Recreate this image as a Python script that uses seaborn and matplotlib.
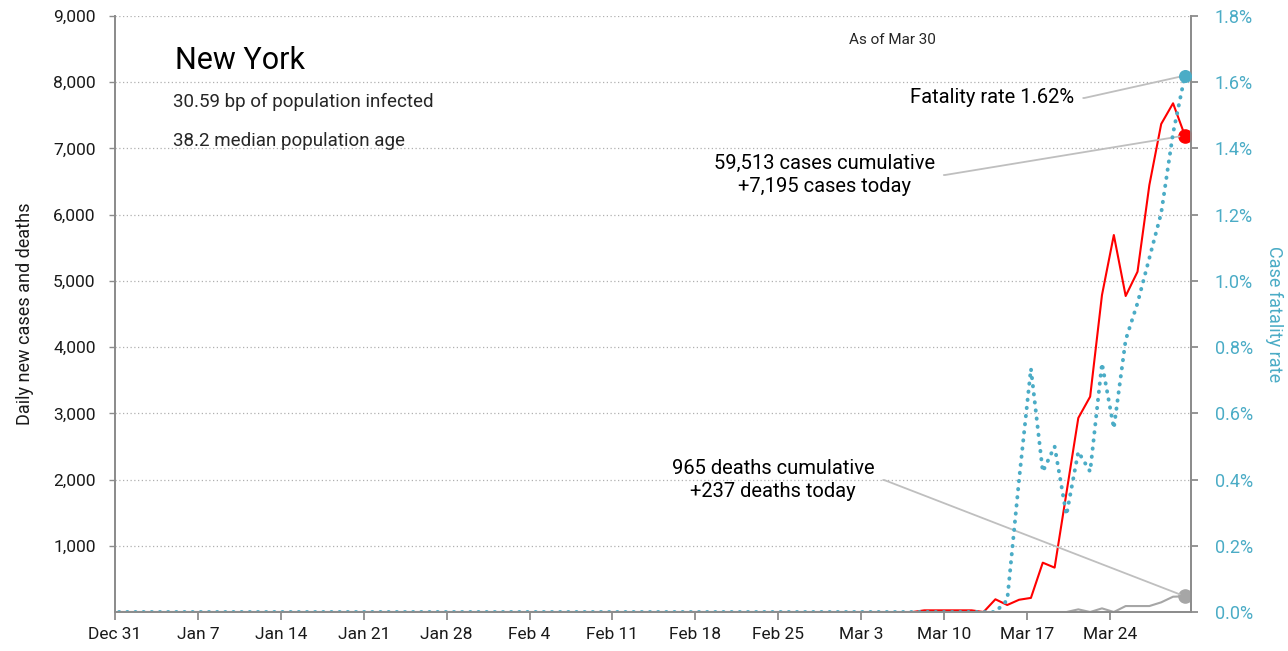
import pandas as pd
import numpy as np
import seaborn as sns
import matplotlib.pyplot as plt
from matplotlib.ticker import FuncFormatter

# ---- data (Dec 31 2019 .. Mar 30 2020, one value per day)
# points sit a little after midnight in the original, so stamp them at 08:00
dates = pd.date_range('2019-12-31 08:00', '2020-03-30 08:00', freq='D')

new_cases = [0] * 68 + [25, 25, 25, 25, 25, 0, 192, 106, 185, 213,
                        745, 670, 1800, 2930, 3252, 4787, 5693, 4772, 5139, 6448,
                        7370, 7682, 7195]
new_deaths = [0] * 81 + [40, 0, 55, 0, 90, 90, 90, 146, 231, 237]
fatality_rate = [0] * 75 + [0.036, 0.40, 0.735, 0.424, 0.50, 0.293, 0.484, 0.424,
                            0.751, 0.555, 0.822, 0.933, 1.069, 1.205, 1.446, 1.62]

df = pd.DataFrame({'date': dates, 'cases': new_cases,
                   'deaths': new_deaths, 'cfr': fatality_rate})

RED = '#FF0000'
BLUE = '#4BACC6'
GREY = '#A6A6A6'
LEAD = '#BFBFBF'
SPINE = '#8C8C8C'

sns.set_style('white')
plt.rcParams['font.family'] = ['Roboto', 'DejaVu Sans']

fig = plt.figure(figsize=(12.88, 6.51), dpi=100)
ax = fig.add_axes([0.0893, 0.0599, 0.8354, 0.9155])
ax2 = ax.twinx()

sns.lineplot(data=df, x='date', y='cases', ax=ax, color=RED, lw=1.5)
sns.lineplot(data=df, x='date', y='deaths', ax=ax, color=GREY, lw=1.5)
sns.lineplot(data=df, x='date', y='cfr', ax=ax2, color=BLUE, lw=2.8,
             linestyle=(0, (0.1, 2.0)), dash_capstyle='round')

last = df.iloc[-1]
ax.scatter([last['date']], [last['cases']], s=90, color=RED, zorder=5)
ax.scatter([last['date']], [last['deaths']], s=90, color=GREY, zorder=5)
ax2.scatter([last['date']], [last['cfr']], s=70, color=BLUE, zorder=5)

# axes ranges / ticks
day0 = pd.Timestamp('2019-12-31')
ax.set_xlim(day0, day0 + pd.Timedelta(days=90.85))
ax.set_ylim(0, 9000)
ax2.set_ylim(0, 1.8)
ax.set_yticks(np.arange(1000, 9001, 1000))
ax2.set_yticks(np.arange(0, 1.81, 0.2))
tick_dates = pd.date_range(day0, periods=13, freq='7D')
ax.set_xticks(tick_dates)
ax.set_xticklabels([f'{d:%b} {d.day}' for d in tick_dates])
ax.yaxis.set_major_formatter(FuncFormatter(lambda v, p: f'{v:,.0f}'))
ax2.yaxis.set_major_formatter(FuncFormatter(lambda v, p: f'{v:.1f}%'))

ax.grid(axis='y', color='#B0B0B0', linestyle=(0, (1, 2)), lw=0.9)
ax.set_axisbelow(True)
for a in (ax, ax2):
    a.spines['top'].set_visible(False)
    for s in ('left', 'right', 'bottom'):
        a.spines[s].set_color(SPINE)
        a.spines[s].set_linewidth(1.3)

ax.tick_params(axis='x', length=6, width=1.3, color=SPINE, pad=5,
               labelsize=12.5, labelcolor='#1a1a1a', bottom=True)
ax.tick_params(axis='y', length=4, width=1.0, color=SPINE, pad=10,
               labelsize=12.5, labelcolor='#1a1a1a', left=True)
ax2.tick_params(axis='y', length=5, width=1.3, color=SPINE, pad=12,
                labelsize=13, labelcolor=BLUE, right=True)

ax.set_xlabel('')
ax.set_ylabel('Daily new cases and deaths', fontsize=13, color='#1a1a1a', labelpad=14)
ax2.set_ylabel('Case fatality rate', fontsize=13, color=BLUE, rotation=270, labelpad=22)

# title block
ax.text(0.0558, 0.926, 'New York', transform=ax.transAxes, fontsize=22,
        va='center', ha='left', color='black')
ax.text(0.0540, 0.856, '30.59 bp of population infected', transform=ax.transAxes,
        fontsize=13.5, va='center', ha='left', color='#262626')
ax.text(0.0540, 0.790, '38.2 median population age', transform=ax.transAxes,
        fontsize=13.5, va='center', ha='left', color='#262626')

ax.text(day0 + pd.Timedelta(days=65.6), 8640, 'As of Mar 30', fontsize=11,
        ha='center', va='center', color='#262626')

# annotations with leader lines
conn = 'arc,angleA=0,armA=10,angleB=0,armB=0,rad=0'
lead = dict(arrowstyle='-', color=LEAD, lw=1.3, relpos=(1, 0.5),
            connectionstyle=conn, shrinkA=4, shrinkB=4)

ax.annotate('Fatality rate 1.62%', xy=(last['date'], last['cfr'] / 1.8 * 9000),
            xytext=(day0 + pd.Timedelta(days=81.0), 7762),
            fontsize=14.5, ha='right', va='center',
            color='black', arrowprops=lead, zorder=6)
ax.annotate('59,513 cases cumulative\n+7,195 cases today',
            xy=(last['date'], last['cases']),
            xytext=(day0 + pd.Timedelta(days=59.9), 6599),
            fontsize=14.5, ha='center', va='center',
            linespacing=1.25, color='black', arrowprops=lead, zorder=6)
ax.annotate('965 deaths cumulative\n+237 deaths today',
            xy=(last['date'], last['deaths']),
            xytext=(day0 + pd.Timedelta(days=55.55), 1993),
            fontsize=14.5, ha='center', va='center',
            linespacing=1.25, color='black', arrowprops=lead, zorder=6)

fig.savefig('out.png', dpi=100)
